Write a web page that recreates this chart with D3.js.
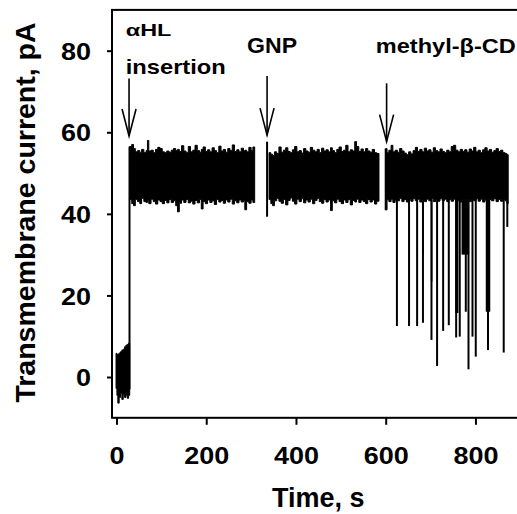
<!DOCTYPE html>
<html>
<head>
<meta charset="utf-8">
<script src="https://cdn.jsdelivr.net/npm/d3@7"></script>
<style>
  body { margin: 0; background: #fff; }
  text { font-family: "Liberation Sans", Arial, sans-serif; font-weight: bold; fill: #000; }
</style>
</head>
<body>
<div id="chart"></div>
<script>
// axis ticks
var xTicks = [0, 200, 400, 600, 800];
var yTicks = [0, 20, 40, 60, 80];

// trace envelope per segment: [time s, upper pA, lower pA]
var baseline = [[-1, 5.8, -2.8], [1, 5.5, -4.5], [3, 5.6, -6.4], [6, 5.9, -5], [9, 6.2, -4],
  [12, 6.6, -5.5], [15, 6.8, -4.2], [18, 7.4, -5], [21, 7.8, -4.4], [24, 8, -5.2],
  [27, 8.3, -4.5], [29.5, 8.3, -4.5]];

var open1 = [[29.5, 56.5, 43.5], [34, 57, 42.5], [38, 56, 42], [42, 55.2, 43.5], [47, 55.5, 43],
  [52, 55, 42.5], [56, 55.8, 43.8], [61, 55, 43], [66, 55.5, 42.8], [69, 58, 43.2],
  [72, 55.4, 42.5], [77, 55.6, 43.6], [82, 55, 43], [87, 55.8, 42.4], [92, 56.3, 43.4],
  [97, 56, 43], [102, 55.2, 42.5], [107, 55, 43.3], [112, 55.4, 42.7], [117, 55.1, 43.5],
  [122, 55.6, 42.8], [127, 56, 43.2], [132, 55.5, 42], [136, 55.8, 40.5], [140, 55.3, 42.6],
  [145, 56.7, 43.4], [150, 55.4, 42.8], [155, 55, 43.5], [160, 56.5, 42.7], [165, 55.2, 43.1],
  [170, 55.6, 42.4], [175, 56.8, 43.3], [180, 55.5, 42.7], [185, 55.1, 43.5], [189, 55.8, 41.2],
  [193, 56.4, 43], [198, 55.3, 42.5], [203, 55.7, 43.4], [208, 55.2, 42.8], [213, 56.2, 43.2],
  [218, 55.5, 42.3], [223, 55, 43.5], [228, 56.6, 42.9], [233, 55.4, 43.3], [238, 55.8, 42.6],
  [243, 55.1, 43.4], [248, 56, 42.9], [253, 55.5, 43.6], [258, 56.9, 42.4], [263, 55.3, 43.2],
  [268, 55.7, 42.7], [273, 55.2, 43.4], [278, 56.1, 42.9], [283, 55.4, 43.3], [286, 55.6, 41],
  [290, 55.2, 43], [295, 56.3, 42.6], [300, 55.5, 43.4], [304, 56.4, 42.8], [308, 56.4, 42.8]];

var open2 = [[340, 55, 43.5], [344, 54.6, 42.5], [348, 54.3, 42], [352, 55.2, 43.2], [357, 54.8, 43.8],
  [362, 56.4, 43.1], [367, 55.1, 42.6], [372, 55.6, 43.5], [377, 56.2, 42.2], [382, 55.3, 43.3],
  [387, 55, 43.9], [392, 55.7, 43.1], [397, 56.5, 42.4], [402, 55.2, 43.6], [407, 55.5, 43],
  [412, 54.9, 43.7], [417, 56, 42.7], [422, 55.4, 43.4], [427, 55.1, 42.9], [432, 56.3, 43.6],
  [437, 55.6, 42.5], [442, 55.2, 43.3], [447, 55.8, 43.8], [452, 55, 43], [457, 56.1, 42.6],
  [462, 55.4, 43.5], [467, 55.7, 42.9], [472, 55.2, 43.4], [477, 56.2, 40.8], [481, 55.5, 43.2],
  [486, 55, 42.7], [491, 55.8, 43.6], [496, 56.4, 43], [501, 55.3, 42.5], [506, 55.6, 43.4],
  [511, 56.8, 42.8], [516, 55.2, 43.5], [521, 55.7, 42.2], [526, 55.4, 43.3], [531, 57.7, 42.9],
  [535, 56.5, 43.6], [540, 55.3, 42.8], [545, 55.9, 43.4], [550, 55.2, 43], [555, 56, 42.5],
  [560, 55.4, 43.5], [565, 55.1, 42.9], [570, 55.8, 43.4], [575, 55, 42.4], [580, 54.8, 43.1],
  [585, 54.8, 43.1]];

var open3 = [[600, 56, 41], [603, 55, 43.5], [607, 55.6, 43], [612, 56.8, 43.6], [616, 55.2, 42.8],
  [621, 55.6, 43.4], [626, 55.1, 43.2], [631, 56, 43.8], [636, 55.4, 43], [641, 54.9, 43.5],
  [646, 54.5, 42.9], [651, 55.2, 43.6], [656, 54.7, 43.1], [661, 55.5, 43.7], [666, 56.3, 43.2],
  [671, 55.3, 43.6], [676, 55.8, 42.9], [681, 55.2, 43.4], [686, 56.1, 43], [691, 55.4, 43.6],
  [696, 55.7, 43.2], [701, 55.1, 43.8], [706, 56.2, 43], [711, 55.5, 43.5], [716, 55.2, 43.1],
  [721, 55.9, 43.7], [726, 55.3, 43.2], [731, 55, 43.6], [736, 55.6, 43], [741, 55.2, 43.5],
  [746, 56.5, 43.1], [751, 56.8, 43.6], [756, 55.6, 43], [761, 55.2, 43.4], [766, 55.8, 42.9],
  [771, 55.3, 43.5], [776, 55.7, 43.1], [781, 55.1, 43.6], [786, 55.9, 43], [791, 55.4, 43.5],
  [796, 56.3, 43.2], [801, 55.2, 43.7], [806, 55.6, 43.1], [811, 55, 43.6], [816, 55.7, 42.9],
  [821, 56.2, 43.4], [826, 55.4, 43], [831, 55.8, 43.5], [836, 55.1, 43.2], [841, 55.5, 43.7],
  [846, 56, 43], [851, 55.3, 43.5], [856, 55.6, 43.1], [861, 55, 43.6], [866, 54.8, 43.2],
  [870, 54.5, 42.5], [873, 54.5, 42.5]];

// single transitions: [time, from pA, to pA]
var jumps = [[29, -3, 56.5], [335.6, 57.7, 39.3], [600, 56, 40.9], [871, 43, 36.8]];

// blockade events after methyl-beta-CD: time and lowest current
var spikeTime = [625, 652, 670, 683, 702, 714.5, 728, 740.6, 757, 765, 778.5, 784.5, 793.4, 800.7, 828, 863];
var spikeLow  = [12.5, 12.5, 12.5, 13.3, 9.1, 2.7, 11.3, 12.7, 9.7, 9.9, 16, 1.9, 9.9, 5, 6.6, 6];

// wider clusters of events: start, end, lowest current
var burstStart = [681, 700.5, 755, 769, 823];
var burstEnd   = [685, 704, 762, 786, 833];
var burstLow   = [30, 23.4, 15.7, 30, 16];

// arrows: time, top, tip (pA)
var arrowTime = [28, 335.6, 602];
var arrowTop  = [73.2, 73.8, 72];
var arrowTip  = [59.1, 59.3, 57.7];

var W = 517, H = 514;

var svg = d3.select("#chart").append("svg")
  .attr("width", W)
  .attr("height", H);

var x = d3.scaleLinear().domain([-10, 900]).range([112, 112 + 910 * 0.4487]);
var y = d3.scaleLinear().domain([-10, 90]).range([417.8, 9.9]);

// frame
svg.append("rect")
  .attr("x", x(-10)).attr("y", y(90))
  .attr("width", x(900) - x(-10)).attr("height", y(-10) - y(90))
  .attr("fill", "none").attr("stroke", "#000").attr("stroke-width", 2);

// axes
var yAxis = svg.append("g")
  .attr("transform", "translate(" + x(-10) + ",0)")
  .call(d3.axisLeft(y).tickValues(yTicks).tickSize(5).tickPadding(16));
var xAxis = svg.append("g")
  .attr("transform", "translate(0," + y(-10) + ")")
  .call(d3.axisBottom(x).tickValues(xTicks).tickSize(7).tickPadding(22));

[xAxis, yAxis].forEach(function(g) {
  g.select(".domain").remove();
  g.selectAll(".tick line").attr("stroke", "#000").attr("stroke-width", 2);
  g.selectAll(".tick text")
    .attr("font-size", 24)
    .attr("font-family", null)
    .attr("fill", "#000")
    .attr("textLength", function(d) { return String(d).length * 15; })
    .attr("lengthAdjust", "spacingAndGlyphs");
});
yAxis.selectAll(".tick text").attr("dy", "0.36em");
xAxis.selectAll(".tick text").attr("dy", "0.71em");

// trace
var area = d3.area()
  .curve(d3.curveStepAfter)
  .x(function(d) { return x(d[0]); })
  .y0(function(d) { return y(d[2]); })
  .y1(function(d) { return y(d[1]); });

svg.selectAll("path.seg")
  .data([baseline, open1, open2, open3])
  .enter().append("path")
  .attr("class", "seg")
  .attr("d", area)
  .attr("fill", "#000")
  .attr("stroke", "#000")
  .attr("stroke-width", 1);

svg.selectAll("line.jump")
  .data(jumps)
  .enter().append("line")
  .attr("x1", function(d) { return x(d[0]); })
  .attr("x2", function(d) { return x(d[0]); })
  .attr("y1", function(d) { return y(d[1]); })
  .attr("y2", function(d) { return y(d[2]); })
  .attr("stroke", "#000").attr("stroke-width", 2);

svg.selectAll("rect.burst")
  .data(burstStart)
  .enter().append("rect")
  .attr("x", function(d) { return x(d); })
  .attr("width", function(d, i) { return x(burstEnd[i]) - x(d); })
  .attr("y", y(43.5))
  .attr("height", function(d, i) { return y(burstLow[i]) - y(43.5); })
  .attr("fill", "#000");

svg.selectAll("line.spike")
  .data(spikeTime)
  .enter().append("line")
  .attr("x1", function(d) { return x(d); })
  .attr("x2", function(d) { return x(d); })
  .attr("y1", y(44))
  .attr("y2", function(d, i) { return y(spikeLow[i]); })
  .attr("stroke", "#000").attr("stroke-width", 2);

// arrows
var arrows = svg.selectAll("g.arrow")
  .data(arrowTime)
  .enter().append("g")
  .attr("fill", "none").attr("stroke", "#000").attr("stroke-width", 1.6);
arrows.append("line")
  .attr("x1", function(d) { return x(d); })
  .attr("x2", function(d) { return x(d); })
  .attr("y1", function(d, i) { return y(arrowTop[i]); })
  .attr("y2", function(d, i) { return y(arrowTip[i]); });
arrows.append("path")
  .attr("d", function(d, i) {
    var cx = x(d), ty = y(arrowTip[i]);
    return "M" + (cx - 7) + "," + (ty - 27) + "L" + cx + "," + ty + "L" + (cx + 7) + "," + (ty - 27);
  });

// labels
function label(txt, t, v, size, len) {
  svg.append("text")
    .attr("x", x(t)).attr("y", y(v))
    .attr("font-size", size)
    .attr("textLength", len)
    .attr("lengthAdjust", "spacingAndGlyphs")
    .text(txt);
}
label("αHL", 20.7, 83.6, 17, 45.7);
label("insertion", 20.7, 74.3, 21, 100);
label("GNP", 291, 79.4, 22, 50);
label("methyl-β-CD", 577.9, 79.4, 21, 140);

// axis titles
svg.append("text")
  .attr("x", 318.3).attr("y", 507)
  .attr("text-anchor", "middle")
  .attr("font-size", 27)
  .text("Time, s");

svg.append("text")
  .attr("transform", "translate(35,212.5) rotate(-90)")
  .attr("text-anchor", "middle")
  .attr("font-size", 28.5)
  .text("Transmembrane current, pA");
</script>
</body>
</html>
